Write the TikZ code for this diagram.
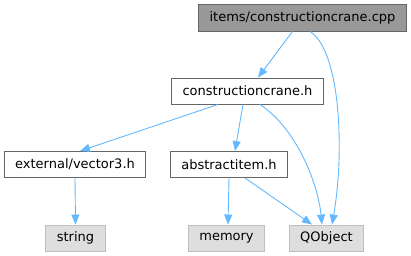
\documentclass[tikz,border=0pt]{standalone}
\usepackage{fontspec}
\setmainfont{DejaVu Sans}
\usetikzlibrary{arrows.meta}
\definecolor{edgeblue}{HTML}{63B8FF}
\definecolor{boxline}{HTML}{666666}
\definecolor{extline}{HTML}{BFBFBF}
\definecolor{extfill}{HTML}{DEDEDE}
\definecolor{rootfill}{HTML}{999999}
\tikzset{
  file/.style={draw=boxline, line width=0.9pt, fill=white, inner xsep=11pt, inner ysep=0pt,
               font=\fontsize{13}{15}\selectfont, minimum height=26pt},
  root/.style={file, fill=rootfill, minimum height=27pt},
  ext/.style={file, draw=extline, fill=extfill},
  incl/.style={-{Triangle[length=10pt,width=8pt]}, line width=0.9pt, draw=edgeblue},
}

\begin{document}
\begin{tikzpicture}[x=1pt, y=-1pt]
  \useasboundingbox (0,0) rectangle (411,256);
  % include graph nodes
  \node[root] (cpp)   at (302.5,17.5) {items/constructioncrane.cpp};
  \node[file] (crane) at (247.5,91)   {constructioncrane.h};
  \node[file] (vec)   at (75,164.5)   {external/vector3.h};
  \node[file] (abs)   at (229,164.5)  {abstractitem.h};
  \node[ext]  (str)   at (75.5,238)   {string};
  \node[ext]  (mem)   at (226.5,238)  {memory};
  \node[ext]  (qobj)  at (326.5,238)  {QObject};
  % include edges
  \draw[incl] ([xshift=-10pt]cpp.south) -- ([xshift=10.5pt]crane.north);
  \draw[incl] ([xshift=7.5pt]cpp.south) .. controls (340,50) and (345,150) .. ([xshift=5.5pt]qobj.north);
  \draw[incl] ([xshift=-29.5pt]crane.south) -- ([xshift=5pt]vec.north);
  \draw[incl] ([xshift=-4.5pt]crane.south) -- ([xshift=6pt]abs.north);
  \draw[incl] ([xshift=12.5pt]crane.south) .. controls (298,130) and (318,185) .. ([xshift=-4.5pt]qobj.north);
  \draw[incl] (vec.south) -- (str.north);
  \draw[incl] (abs.south) -- ([xshift=1.5pt]mem.north);
  \draw[incl] ([xshift=16pt]abs.south) -- ([xshift=-14.5pt]qobj.north);
\end{tikzpicture}
\end{document}
